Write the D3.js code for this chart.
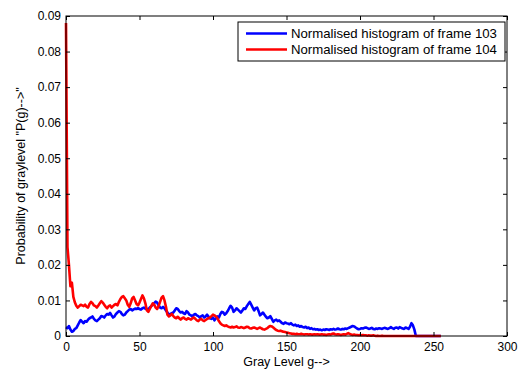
<!DOCTYPE html>
<html>
<head>
<meta charset="utf-8">
<script src="https://cdn.jsdelivr.net/npm/d3@7"></script>
<style>
  body { margin: 0; background: #fff; }
  text { font-family: "Liberation Sans", Arial, sans-serif; }
</style>
</head>
<body>
<script>
// normalised histogram of frame 103 (gray levels 0..255)
const frame103 = [
  0.0025, 0.0022, 0.0028, 0.0018, 0.0012, 0.0014, 0.0020, 0.0022, 0.0030, 0.0038,
  0.0045, 0.0040, 0.0036, 0.0042, 0.0040, 0.0046, 0.0050, 0.0052, 0.0055, 0.0048,
  0.0044, 0.0042, 0.0046, 0.0050, 0.0056, 0.0055, 0.0052, 0.0058, 0.0062, 0.0060,
  0.0065, 0.0058, 0.0052, 0.0055, 0.0062, 0.0066, 0.0070, 0.0068, 0.0062, 0.0058,
  0.0060, 0.0066, 0.0070, 0.0074, 0.0076, 0.0072, 0.0075, 0.0077, 0.0076, 0.0078,
  0.0076, 0.0074, 0.0078, 0.0080, 0.0077, 0.0076, 0.0075, 0.0080, 0.0084, 0.0088,
  0.0092, 0.0097, 0.0094, 0.0086, 0.0080, 0.0078, 0.0082, 0.0078, 0.0072, 0.0066,
  0.0060, 0.0062, 0.0064, 0.0066, 0.0072, 0.0078, 0.0076, 0.0070, 0.0066, 0.0068,
  0.0064, 0.0062, 0.0070, 0.0066, 0.0060, 0.0058, 0.0055, 0.0060, 0.0062, 0.0058,
  0.0056, 0.0052, 0.0056, 0.0058, 0.0052, 0.0055, 0.0060, 0.0054, 0.0050, 0.0048,
  0.0052, 0.0044, 0.0050, 0.0055, 0.0052, 0.0062, 0.0068, 0.0066, 0.0060, 0.0064,
  0.0070, 0.0078, 0.0085, 0.0080, 0.0068, 0.0072, 0.0078, 0.0074, 0.0070, 0.0066,
  0.0072, 0.0078, 0.0076, 0.0084, 0.0090, 0.0096, 0.0088, 0.0080, 0.0072, 0.0078,
  0.0080, 0.0070, 0.0058, 0.0062, 0.0066, 0.0060, 0.0054, 0.0050, 0.0052, 0.0056,
  0.0048, 0.0040, 0.0044, 0.0046, 0.0042, 0.0044, 0.0040, 0.0036, 0.0034, 0.0038,
  0.0036, 0.0035, 0.0033, 0.0036, 0.0032, 0.0030, 0.0032, 0.0028, 0.0030, 0.0026,
  0.0028, 0.0025, 0.0024, 0.0026, 0.0022, 0.0024, 0.0020, 0.0022, 0.0019, 0.0020,
  0.0018, 0.0019, 0.0017, 0.0018, 0.0016, 0.0018, 0.0017, 0.0019, 0.0018, 0.0017,
  0.0019, 0.0018, 0.0020, 0.0018, 0.0019, 0.0021, 0.0019, 0.0018, 0.0020, 0.0019,
  0.0021, 0.0020, 0.0022, 0.0024, 0.0026, 0.0028, 0.0027, 0.0024, 0.0021, 0.0019,
  0.0020, 0.0022, 0.0021, 0.0023, 0.0024, 0.0022, 0.0020, 0.0021, 0.0023, 0.0020,
  0.0019, 0.0021, 0.0020, 0.0022, 0.0021, 0.0020, 0.0022, 0.0023, 0.0021, 0.0020,
  0.0022, 0.0025, 0.0022, 0.0020, 0.0023, 0.0024, 0.0021, 0.0025, 0.0023, 0.0021,
  0.0020, 0.0024, 0.0022, 0.0020, 0.0026, 0.0036, 0.0030, 0.0018, 0, 0,
  0, 0, 0, 0, 0, 0, 0, 0, 0, 0,
  0, 0, 0, 0, 0, 0
];

// normalised histogram of frame 104 (gray levels 0..255)
const frame104 = [
  0.0880, 0.0250, 0.0200, 0.0140, 0.0150, 0.0110, 0.0095, 0.0085, 0.0080, 0.0084,
  0.0088, 0.0086, 0.0084, 0.0088, 0.0082, 0.0080, 0.0090, 0.0096, 0.0092, 0.0086,
  0.0084, 0.0080, 0.0086, 0.0092, 0.0098, 0.0094, 0.0088, 0.0082, 0.0078, 0.0084,
  0.0086, 0.0080, 0.0084, 0.0088, 0.0090, 0.0086, 0.0096, 0.0104, 0.0110, 0.0112,
  0.0106, 0.0100, 0.0088, 0.0082, 0.0092, 0.0106, 0.0110, 0.0100, 0.0090, 0.0086,
  0.0094, 0.0104, 0.0114, 0.0106, 0.0092, 0.0072, 0.0068, 0.0076, 0.0084, 0.0092,
  0.0088, 0.0080, 0.0076, 0.0084, 0.0096, 0.0108, 0.0112, 0.0100, 0.0082, 0.0060,
  0.0055, 0.0058, 0.0062, 0.0056, 0.0052, 0.0050, 0.0054, 0.0050, 0.0046, 0.0050,
  0.0052, 0.0048, 0.0046, 0.0050, 0.0048, 0.0046, 0.0050, 0.0052, 0.0048, 0.0044,
  0.0042, 0.0046, 0.0048, 0.0044, 0.0042, 0.0045, 0.0048, 0.0050, 0.0052, 0.0056,
  0.0060, 0.0058, 0.0055, 0.0050, 0.0042, 0.0036, 0.0032, 0.0030, 0.0028, 0.0030,
  0.0027, 0.0025, 0.0024, 0.0026, 0.0024, 0.0025, 0.0027, 0.0024, 0.0023, 0.0025,
  0.0024, 0.0022, 0.0024, 0.0026, 0.0025, 0.0022, 0.0021, 0.0023, 0.0024, 0.0022,
  0.0020, 0.0022, 0.0024, 0.0021, 0.0019, 0.0018, 0.0020, 0.0022, 0.0026, 0.0028,
  0.0027, 0.0024, 0.0020, 0.0017, 0.0015, 0.0014, 0.0015, 0.0013, 0.0012, 0.0011,
  0.0010, 0.0009, 0.0008, 0.0007, 0.0006, 0.0006, 0.0005, 0.0006, 0.0005, 0.0005,
  0.0006, 0.0005, 0.0004, 0.0005, 0.0005, 0.0004, 0.0005, 0.0004, 0.0004, 0.0005,
  0.0004, 0.0005, 0.0004, 0.0004, 0.0005, 0.0004, 0.0004, 0.0003, 0.0004, 0.0005,
  0.0004, 0.0006, 0.0007, 0.0005, 0.0004, 0.0005, 0.0004, 0.0003, 0.0004, 0.0005,
  0.0004, 0.0006, 0.0008, 0.0006, 0.0004, 0.0003, 0.0004, 0.0003, 0.0003, 0.0002,
  0.0003, 0.0002, 0.0003, 0.0002, 0.0002, 0.0001, 0.0002, 0.0001, 0.0001, 0.0002,
  0.0001, 0, 0.0001, 0, 0, 0.0001, 0, 0, 0, 0,
  0, 0, 0, 0, 0, 0, 0, 0, 0, 0,
  0, 0, 0, 0, 0, 0, 0, 0, 0, 0,
  0, 0, 0, 0, 0, 0, 0, 0, 0, 0,
  0, 0, 0, 0, 0, 0
];

const xTicks = [0, 50, 100, 150, 200, 250, 300];
const yTicks = [0, 0.01, 0.02, 0.03, 0.04, 0.05, 0.06, 0.07, 0.08, 0.09];

const seriesNames = ["Normalised histogram of frame 103", "Normalised histogram of frame 104"];
const seriesColors = ["#0000ff", "#ff0000"];

const W = 522, H = 369;
const margin = { left: 66, right: 15, top: 16, bottom: 33 };

const svg = d3.select("body")
    .append("svg")
    .attr("width", W)
    .attr("height", H)
    .style("background-color", "#ffffff");

const x = d3.scaleLinear().domain([0, 300]).range([margin.left, W - margin.right]);
const y = d3.scaleLinear().domain([0, 0.09]).range([H - margin.bottom, margin.top]);

// data lines, frame 104 drawn on top
const line = d3.line()
    .x((d, i) => x(i))
    .y(d => y(d));

[frame103, frame104].forEach(function (series, k) {
    svg.append("path")
        .datum(series)
        .attr("fill", "none")
        .attr("stroke", seriesColors[k])
        .attr("stroke-width", 2.6)
        .attr("stroke-linejoin", "round")
        .attr("d", line);
});

// axes box with inward ticks on all sides
const tickLen = 4;
svg.append("g")
    .attr("transform", "translate(0," + y(0) + ")")
    .call(d3.axisBottom(x).tickValues(xTicks).tickSize(-tickLen).tickPadding(6).tickFormat(d3.format("d")))
    .call(g => g.select(".domain").remove());
svg.append("g")
    .attr("transform", "translate(0," + y(0.09) + ")")
    .call(d3.axisTop(x).tickValues(xTicks).tickSize(-tickLen).tickFormat(""))
    .call(g => g.select(".domain").remove());
svg.append("g")
    .attr("transform", "translate(" + x(0) + ",0)")
    .call(d3.axisLeft(y).tickValues(yTicks).tickSize(-tickLen).tickPadding(5).tickFormat(d => d === 0 ? "0" : d3.format(".2f")(d)))
    .call(g => g.select(".domain").remove());
svg.append("g")
    .attr("transform", "translate(" + x(300) + ",0)")
    .call(d3.axisRight(y).tickValues(yTicks).tickSize(-tickLen).tickFormat(""))
    .call(g => g.select(".domain").remove());

svg.selectAll(".tick line").attr("stroke", "#000");
svg.selectAll(".tick text")
    .attr("font-size", "12px")
    .attr("font-family", '"Liberation Sans", Arial, sans-serif')
    .attr("fill", "#000");

svg.append("rect")
    .attr("x", x(0))
    .attr("y", y(0.09))
    .attr("width", x(300) - x(0))
    .attr("height", y(0) - y(0.09))
    .attr("fill", "none")
    .attr("stroke", "#000")
    .attr("stroke-width", 1);

// axis labels
svg.append("text")
    .attr("x", (x(0) + x(300)) / 2)
    .attr("y", 366)
    .attr("text-anchor", "middle")
    .attr("font-size", "12.5px")
    .text("Gray Level g-->");

svg.append("text")
    .attr("transform", "translate(25," + (y(0) + y(0.09)) / 2 + ") rotate(-90)")
    .attr("text-anchor", "middle")
    .attr("font-size", "12.5px")
    .text("Probability of graylevel \"P(g)-->\"");

// legend
const legend = svg.append("g").attr("transform", "translate(238,22)");
legend.append("rect")
    .attr("width", 267)
    .attr("height", 39)
    .attr("fill", "#fff")
    .attr("stroke", "#000")
    .attr("stroke-width", 1);

seriesNames.forEach(function (name, k) {
    let rowY = 11.5 + k * 16;
    legend.append("line")
        .attr("x1", 8).attr("x2", 49)
        .attr("y1", rowY).attr("y2", rowY)
        .attr("stroke", seriesColors[k])
        .attr("stroke-width", 2.6);
    legend.append("text")
        .attr("x", 53)
        .attr("y", rowY + 4.5)
        .attr("font-size", "13.2px")
        .text(name);
});
</script>
</body>
</html>
